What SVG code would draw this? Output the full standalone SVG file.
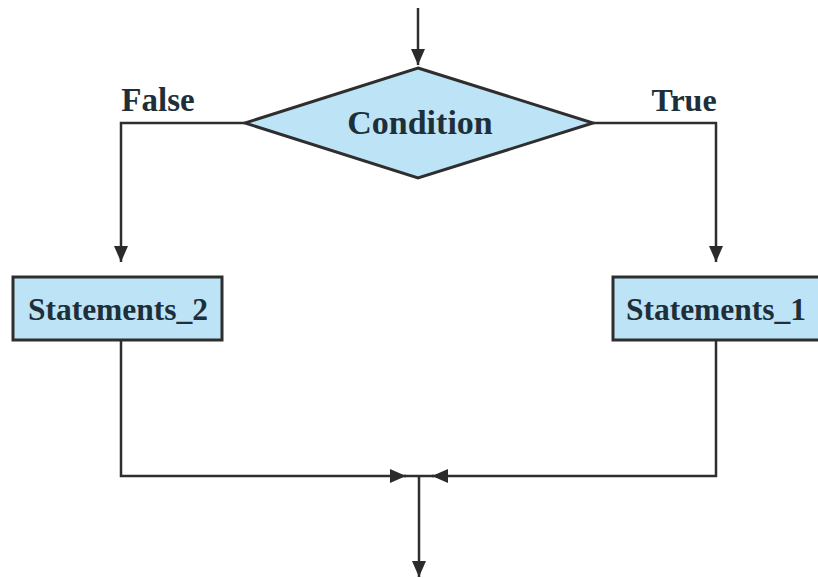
<svg xmlns="http://www.w3.org/2000/svg" width="818" height="578" viewBox="0 0 818 578">
<defs>
<marker id="ah2" viewBox="0 0 16 14" refX="16" refY="7" markerWidth="16" markerHeight="14" markerUnits="userSpaceOnUse" orient="auto">
<path d="M0,0 L16,7 L0,14 z" fill="#2b2b2b"/>
</marker>
</defs>
<style>
.shape{fill:#bde4f6;stroke:#2e2e2e;stroke-width:3}
.line{fill:none;stroke:#2e2e2e;stroke-width:2.5}
.t{font-family:"Liberation Serif",serif;font-weight:bold;fill:#1e2f3a;text-anchor:middle}
</style>
<rect width="818" height="578" fill="#ffffff"/>
<g id="connectors">
<line class="line" x1="418" y1="8" x2="418" y2="65" marker-end="url(#ah2)"/>
<polyline class="line" points="245,123 121,123 121,262" marker-end="url(#ah2)"/>
<polyline class="line" points="593,123 716,123 716,262" marker-end="url(#ah2)"/>
<polyline class="line" points="121,340 121,476 406,476" marker-end="url(#ah2)"/>
<polyline class="line" points="716,340 716,476 432,476" marker-end="url(#ah2)"/>
<line class="line" x1="404" y1="476" x2="434" y2="476"/>
<line class="line" x1="419" y1="476" x2="419" y2="577" marker-end="url(#ah2)"/>
</g>
<g id="condition">
<polygon class="shape" points="418,68 593,123 418,178 245,123"/>
<text class="t" x="420" y="134" font-size="34">Condition</text>
</g>
<g id="label-false"><text class="t" x="158" y="111" font-size="33">False</text></g>
<g id="label-true"><text class="t" x="684" y="111" font-size="32">True</text></g>
<g id="statements2">
<rect class="shape" x="13" y="277" width="209" height="63"/>
<text class="t" x="118" y="320" font-size="31.5">Statements_2</text>
</g>
<g id="statements1">
<rect class="shape" x="613" y="277" width="210" height="63"/>
<text class="t" x="716" y="320" font-size="31.5">Statements_1</text>
</g>
</svg>
